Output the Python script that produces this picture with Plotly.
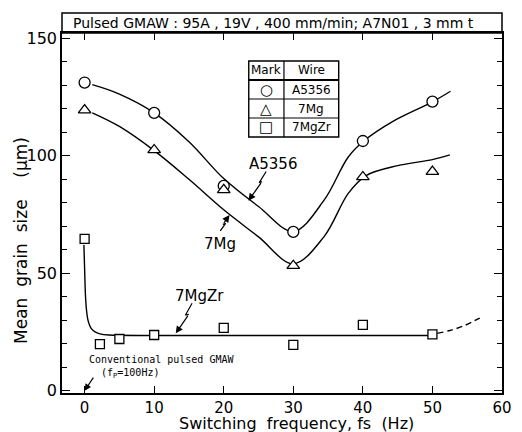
import plotly.graph_objects as go

# ---------------- data ----------------
freq_a5356 = [0, 10, 20, 30, 40, 50]
size_a5356 = [131.2, 118.3, 87.2, 67.6, 106.3, 123.1]

freq_7mg = [0, 10, 20, 30, 40, 50]
size_7mg = [119.5, 102.5, 85.5, 53.2, 91.0, 93.3]

freq_7mgzr = [0, 2.2, 5, 10, 20, 30, 40, 50]
size_7mgzr = [64.6, 19.8, 22.0, 23.7, 26.7, 19.5, 28.0, 24.0]

# hand-drawn fitting curves
curve_a5356_x = [1.1, 5, 10, 15, 20, 25, 30, 34.4, 37.9, 40.2, 44.2, 50, 52.6]
curve_a5356_y = [130.3, 126.3, 118.3, 106.0, 90.3, 78.4, 67.8, 81.0, 99.5, 106.5, 114.5, 123.0, 127.5]

curve_7mg_x = [1.1, 5, 10, 15, 20, 25, 30, 34.4, 37.9, 40.4, 45, 50, 52.5]
curve_7mg_y = [118.3, 112.5, 102.2, 90.0, 77.0, 65.5, 54.0, 65.5, 84.0, 91.5, 95.8, 98.4, 100.4]

curve_7mgzr_x = [-0.1, 0.0, 0.1, 0.25, 0.45, 0.7, 1.0, 1.5, 2.2, 3.5, 10, 20, 30, 40, 50]
curve_7mgzr_y = [62.0, 52.0, 42.0, 35.0, 30.5, 28.0, 26.3, 25.0, 24.2, 23.7, 23.5, 23.5, 23.5, 23.5, 23.5]

dash_7mgzr_x = [50.7, 52.5, 54.5, 56.8]
dash_7mgzr_y = [24.4, 25.6, 27.6, 30.9]

x_ticks = [0, 10, 20, 30, 40, 50, 60]
y_ticks = [0, 50, 100, 150]

title_text = "Pulsed GMAW : 95A , 19V , 400 mm/min; A7N01 , 3 mm t"
legend_rows = [("○", "A5356"), ("△", "7Mg"), ("□", "7MgZr")]
note_text = "Conventional pulsed GMAW<br>  (f<sub>P</sub>=100Hz)"

# label callouts (lightning-bolt leaders) in data coordinates
bolt_a5356 = [(26.1, 93.3), (25.1, 88.6), (25.5, 89.0), (23.55, 80.9)]
bolt_7mg = [(19.5, 68.0), (20.27, 71.2), (19.87, 70.8), (20.83, 74.8)]
bolt_7mgzr = [(15.45, 37.2), (14.5, 32.2), (14.98, 32.5), (13.1, 24.4)]

FONT = "DejaVu Sans"
INK = "black"

fig = go.Figure()

line_style = dict(color=INK, width=1.4)
fig.add_trace(go.Scatter(x=curve_a5356_x, y=curve_a5356_y, mode="lines",
                         line=dict(shape="spline", smoothing=1.0, **line_style), hoverinfo="skip"))
fig.add_trace(go.Scatter(x=curve_7mg_x, y=curve_7mg_y, mode="lines",
                         line=dict(shape="spline", smoothing=1.0, **line_style), hoverinfo="skip"))
fig.add_trace(go.Scatter(x=curve_7mgzr_x, y=curve_7mgzr_y, mode="lines",
                         line=dict(shape="spline", smoothing=0.6, **line_style), hoverinfo="skip"))
fig.add_trace(go.Scatter(x=dash_7mgzr_x, y=dash_7mgzr_y, mode="lines",
                         line=dict(shape="spline", dash="6px,4px", color=INK, width=1.4), hoverinfo="skip"))

mk = dict(color="white", line=dict(color=INK, width=1.3))
fig.add_trace(go.Scatter(x=freq_a5356, y=size_a5356, mode="markers", name="A5356",
                         marker=dict(symbol="circle", size=11, **mk)))
fig.add_trace(go.Scatter(x=freq_7mg, y=size_7mg, mode="markers", name="7Mg",
                         marker=dict(symbol="triangle-up", size=11, **mk)))
fig.add_trace(go.Scatter(x=freq_7mgzr, y=size_7mgzr, mode="markers", name="7MgZr",
                         marker=dict(symbol="square", size=9, **mk)))

# bolts
for bolt in (bolt_a5356, bolt_7mg, bolt_7mgzr):
    xs = [p[0] for p in bolt[:3]]
    ys = [p[1] for p in bolt[:3]]
    fig.add_trace(go.Scatter(x=xs, y=ys, mode="lines", line=dict(color=INK, width=1.2), hoverinfo="skip"))
    fig.add_annotation(x=bolt[3][0], y=bolt[3][1], ax=bolt[2][0], ay=bolt[2][1],
                       xref="x", yref="y", axref="x", ayref="y", text="",
                       showarrow=True, arrowhead=2, arrowsize=1.2, arrowwidth=1.2, arrowcolor=INK)

lab = dict(showarrow=False, xanchor="center", yanchor="middle", font=dict(family=FONT, size=15, color=INK))
# curve labels
fig.add_annotation(x=27.1, y=96.5, text="A5356", **lab)
fig.add_annotation(x=19.5, y=62.3, text="7Mg", **lab)
fig.add_annotation(x=16.5, y=40.3, text="7MgZr", **lab)

# conventional pulsed GMAW note
fig.add_annotation(x=0.4, y=10.2, text=note_text, xanchor="left", yanchor="middle", align="left",
                   showarrow=False, font=dict(family="DejaVu Sans Mono", size=10, color=INK))
fig.add_annotation(x=0, y=0, ax=1.4, ay=6.2, xref="x", yref="y", axref="x", ayref="y", text="",
                   showarrow=True, arrowhead=2, arrowsize=1.1, arrowwidth=1.2, arrowcolor=INK)

# title box above the plot frame
L, R, T, B, W, H = 62, 10, 33, 39, 522, 432
PW, PH = W - L - R, H - T - B


def px(xp):
    return (xp - L) / PW


def py(yp):
    return (H - B - yp) / PH


fig.add_shape(type="rect", xref="paper", yref="paper", x0=0, x1=1, y0=1, y1=py(13),
              line=dict(color=INK, width=1.5))
fig.add_annotation(xref="paper", yref="paper", x=px(71), y=py(23), xanchor="left", yanchor="middle",
                   text=title_text, showarrow=False, font=dict(family=FONT, size=14, color=INK))

# legend table
tx = [253, 289, 345]
ty = [61, 80, 99, 118, 137]
fig.add_shape(type="rect", xref="paper", yref="paper", x0=px(tx[0]), x1=px(tx[2]), y0=py(ty[0]), y1=py(ty[4]),
              line=dict(color=INK, width=1.4), fillcolor="white", layer="above")
fig.add_shape(type="line", xref="paper", yref="paper", x0=px(tx[1]), x1=px(tx[1]), y0=py(ty[0]), y1=py(ty[4]),
              line=dict(color=INK, width=1.2))
for k, yy in enumerate(ty[1:4]):
    fig.add_shape(type="line", xref="paper", yref="paper", x0=px(tx[0]), x1=px(tx[2]), y0=py(yy), y1=py(yy),
                  line=dict(color=INK, width=1.8 if k == 0 else 1.2))
c1 = px((tx[0] + tx[1]) / 2)
c2 = px((tx[1] + tx[2]) / 2)
cell = dict(xref="paper", yref="paper", showarrow=False, xanchor="center", yanchor="middle")
fig.add_annotation(x=c1, y=py((ty[0] + ty[1]) / 2), text="Mark", font=dict(family=FONT, size=12, color=INK), **cell)
fig.add_annotation(x=c2, y=py((ty[0] + ty[1]) / 2), text="Wire", font=dict(family=FONT, size=12, color=INK), **cell)
for i, (sym, wire) in enumerate(legend_rows):
    yc = py((ty[i + 1] + ty[i + 2]) / 2)
    fig.add_annotation(x=c1, y=yc, text=sym, font=dict(family=FONT, size=15, color=INK), **cell)
    fig.add_annotation(x=c2, y=yc, text=wire, font=dict(family=FONT, size=12, color=INK), **cell)

# axis titles
fig.add_annotation(x=px(302), y=py(424), text="Switching  frequency, fs  (Hz)",
                   font=dict(family=FONT, size=16, color=INK), **cell)
fig.add_annotation(x=px(20), y=py(240), text="Mean  grain  size    (μm)", textangle=-90,
                   font=dict(family=FONT, size=17, color=INK), **cell)

fig.update_layout(
    width=W, height=H,
    margin=dict(l=L, r=R, t=T, b=B),
    paper_bgcolor="white", plot_bgcolor="white",
    showlegend=False,
    font=dict(family=FONT, color=INK),
    xaxis=dict(range=[-3.25, 60], tickvals=x_ticks, ticks="inside", ticklen=7, tickwidth=1.2,
               tickcolor=INK, showline=True, linecolor=INK, linewidth=1.6, mirror="ticks",
               showgrid=False, zeroline=False, tickfont=dict(family=FONT, size=15, color=INK)),
    yaxis=dict(range=[-1, 152.3], tickvals=y_ticks, ticks="inside", ticklen=8, tickwidth=1.2,
               tickcolor=INK, showline=True, linecolor=INK, linewidth=1.6, mirror="ticks",
               showgrid=False, zeroline=False, tickfont=dict(family=FONT, size=16, color=INK),
               minor=dict(dtick=10, tick0=0, ticks="inside", ticklen=5, tickwidth=1.1, tickcolor=INK)),
)

fig.write_html("out.html", config={"displayModeBar": False},
               post_script="document.body.style.margin='0px';")
